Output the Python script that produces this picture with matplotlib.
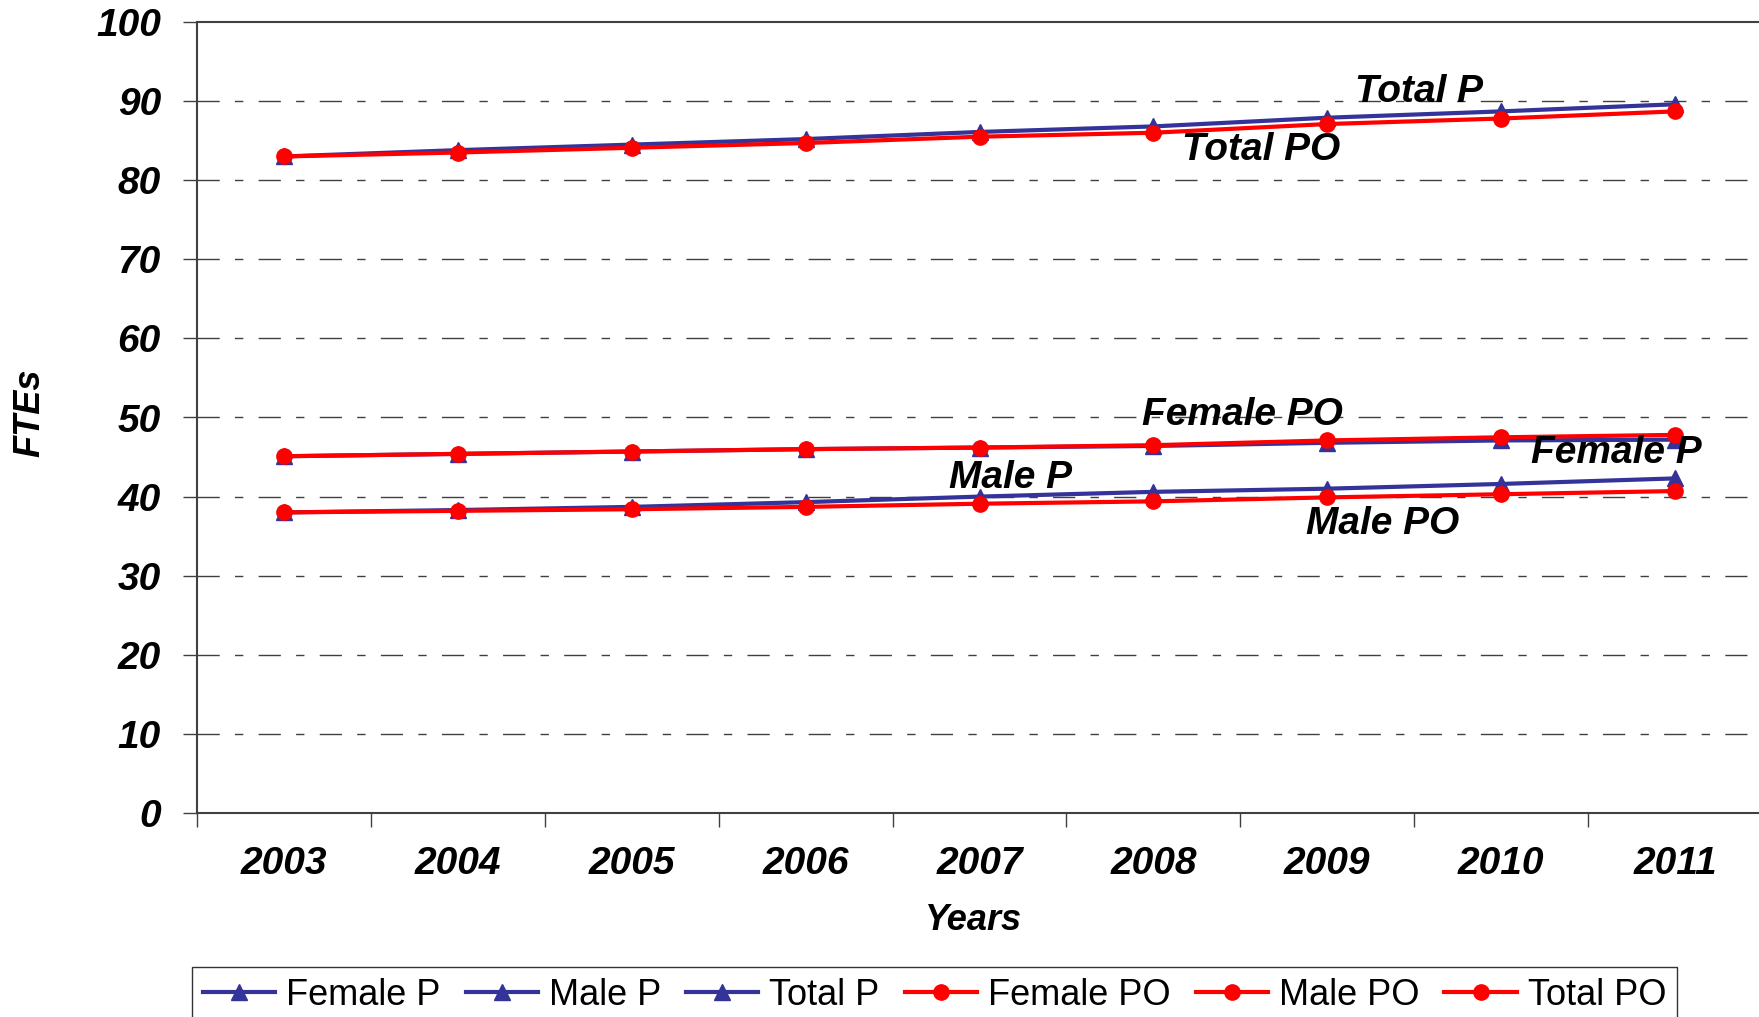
import matplotlib.pyplot as plt
import numpy as np

# Data
years = ["2003", "2004", "2005", "2006", "2007", "2008", "2009", "2010", "2011"]
female_p = [45.1, 45.4, 45.7, 46.0, 46.2, 46.4, 46.8, 47.1, 47.2]
male_p = [38.0, 38.3, 38.7, 39.3, 40.0, 40.6, 41.0, 41.6, 42.3]
total_p = [83.0, 83.8, 84.5, 85.2, 86.1, 86.8, 87.9, 88.7, 89.6]
female_po = [45.1, 45.4, 45.7, 46.0, 46.2, 46.5, 47.1, 47.5, 47.8]
male_po = [38.0, 38.2, 38.4, 38.7, 39.1, 39.4, 39.9, 40.3, 40.7]
total_po = [83.0, 83.5, 84.1, 84.7, 85.5, 86.0, 87.1, 87.8, 88.7]

plt.rcParams['font.family'] = ['Liberation Sans', 'DejaVu Sans']

NAVY = "#333399"
RED = "#FF0000"
bi = dict(fontweight="bold", fontstyle="italic")

fig = plt.figure(figsize=(17.59, 10.17), dpi=100)
W, H = 1759, 1017
ax = fig.add_axes([197 / W, (H - 813) / H, (1762 - 197) / W, (813 - 22) / H])

x = np.arange(len(years))

for vals, lab in [(female_p, "Female P"), (male_p, "Male P"), (total_p, "Total P")]:
    ax.plot(x, vals, color=NAVY, lw=3, marker="^", ms=11, label=lab, clip_on=False)
for vals, lab in [(female_po, "Female PO"), (male_po, "Male PO"), (total_po, "Total PO")]:
    ax.plot(x, vals, color=RED, lw=3, marker="o", ms=11, label=lab, clip_on=False)

ax.set_xlim(-0.5, len(years) - 0.5)
ax.set_ylim(0, 100)
ax.set_yticks(np.arange(0, 101, 10))
ax.set_xticks(x)
ax.set_xticklabels(years, fontsize=28, **bi)
ax.set_xticks(np.arange(-0.5, len(years), 1), minor=True)
ax.tick_params(axis="x", which="major", length=0, pad=24)
ax.tick_params(axis="x", which="minor", length=10, width=1, color="#404040", direction="out")
ax.tick_params(axis="y", length=10, width=1, color="#404040", pad=16)
for t in ax.get_yticklabels():
    t.set_fontsize(28)
    t.set_fontweight("bold")
    t.set_fontstyle("italic")

for yv in range(10, 100, 10):
    ax.axhline(yv, color="#404040", lw=1, ls=(0, (16, 11, 6, 11)), zorder=0)

ax.spines["right"].set_visible(False)
for s in ["left", "bottom", "top"]:
    ax.spines[s].set_color("#404040")
    ax.spines[s].set_linewidth(1.5)

# Series labels
notes = [("Total P", 6.53, 91.2), ("Total PO", 5.62, 83.8), ("Female PO", 5.51, 50.3),
         ("Female P", 7.66, 45.5), ("Male P", 4.18, 42.4), ("Male PO", 6.32, 36.5)]
for txt, nx, ny in notes:
    ax.text(nx, ny, txt, fontsize=28, ha="center", va="center", **bi)

fig.text(974 / W, 1 - 920 / H, "Years", fontsize=26, ha="center", va="center", **bi)
fig.text(30 / W, 1 - 413 / H, "FTEs", fontsize=26, ha="center", va="center", rotation=90, **bi)

leg = fig.legend(loc="upper left", bbox_to_anchor=(192 / W, 1 - 967 / H), ncol=6,
                 fontsize=26, frameon=True, fancybox=False, edgecolor="black",
                 handlelength=2.0, handletextpad=0.3, columnspacing=0.7,
                 borderpad=0.3, borderaxespad=0)
leg.get_frame().set_linewidth(1)

plt.savefig("out.png", dpi=100)
